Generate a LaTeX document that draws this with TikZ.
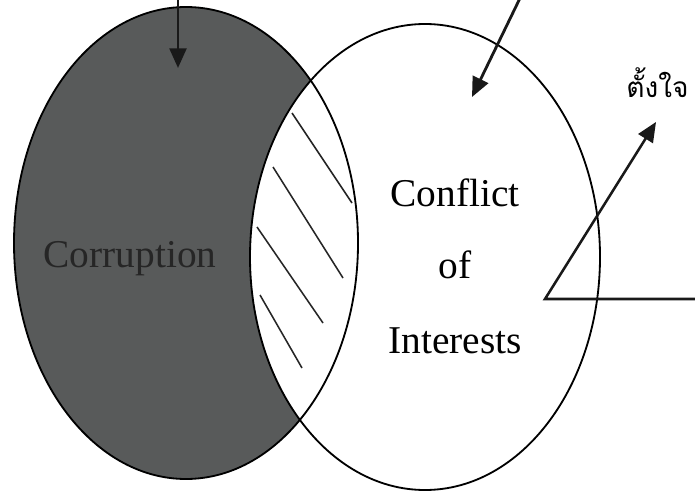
\documentclass[tikz,border=0pt]{standalone}
\usepackage{fontspec}
\setmainfont{Liberation Serif}
\newfontfamily\thaifont[Script=Thai]{Loma}
\usetikzlibrary{arrows.meta}
\definecolor{darkfill}{RGB}{88,90,90}
\tikzset{
  rim/.style   ={draw=black, line width=1.3pt},
  hatch/.style ={draw=black!85, line width=1.1pt},
  label/.style ={font=\fontsize{28}{32}\selectfont, inner sep=0pt, anchor=base},
  pointer/.style={-{Triangle[length=14pt, width=12pt]}, draw=black!90, line width=2pt},
}
\begin{document}
\begin{tikzpicture}[x=0.025cm, y=-0.025cm]
\useasboundingbox (0,0) rectangle (695,492);
% --- sets ---
\fill[darkfill] (186,243) ellipse [x radius=172, y radius=236];
\fill[white] (425,257) ellipse [x radius=175, y radius=233];
% --- hatching of the overlap ---
\draw[hatch] (292,113) -- (352,203);
\draw[hatch] (273,167) -- (343,278);
\draw[hatch] (257,227) -- (323,323);
\draw[hatch] (260,295) -- (302,368);
\draw[rim] (186,243) ellipse [x radius=172, y radius=236];
\draw[rim] (425,257) ellipse [x radius=175, y radius=233];
% --- labels ---
\node[label, text=black!85] (corr) at (130,267) {Corruption};
\node[label] (conf) at (455,206) {Conflict};
\node[label] (of)   at (455,278) {of};
\node[label] (intr) at (455,353) {Interests};
\node[font=\thaifont\fontsize{20}{24}\selectfont, inner sep=0pt, anchor=base west] (tj) at (626,98) {ตั้งใจ};
% --- arrows ---
\coordinate (topA)  at (178,-8);
\coordinate (tipA)  at (178,68);
\coordinate (topB)  at (523,-8);
\coordinate (tipB)  at (472,97);
\coordinate (endC)  at (705,299);
\coordinate (kneeC) at (545,299);
\coordinate (tipC)  at (656,122);
\draw[pointer] (topA) -- (tipA);
\draw[pointer] (topB) -- (tipB);
\draw[pointer, line width=1.8pt] (endC) -- (kneeC) -- (tipC);
\end{tikzpicture}
\end{document}
